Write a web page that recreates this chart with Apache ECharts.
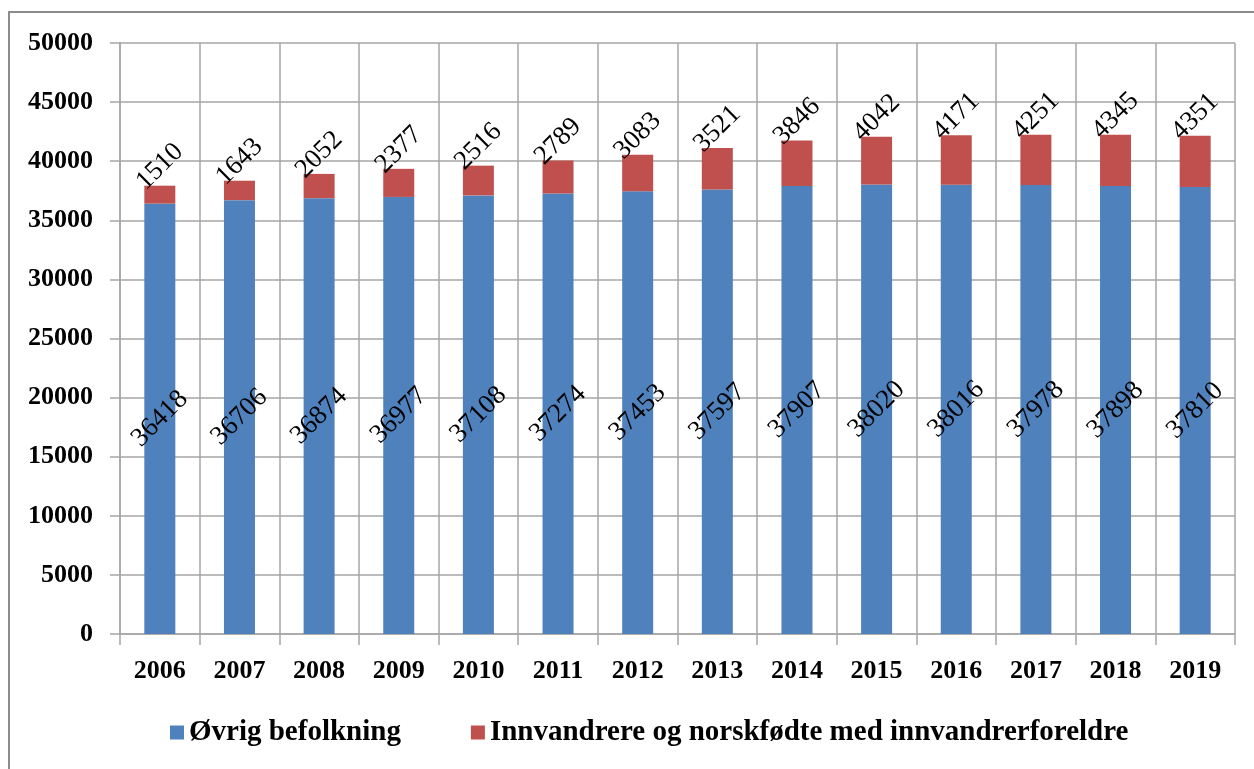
<!DOCTYPE html>
<html>
<head>
<meta charset="utf-8">
<script src="https://cdn.jsdelivr.net/npm/echarts@6/dist/echarts.min.js"></script>
<style>
  html, body { margin: 0; padding: 0; background: #fff; }
  #frame { position: absolute; left: 8px; top: 11px; width: 1260px; height: 770px; border-left: 2px solid #8c8c8c; border-top: 2px solid #8c8c8c; }
  #chart { position: absolute; left: 0; top: 0; width: 1254px; height: 769px; }
</style>
</head>
<body>
<div id="frame"></div>
<div id="chart"></div>
<script>
// Årstall
const years = ['2006', '2007', '2008', '2009', '2010', '2011', '2012', '2013', '2014', '2015', '2016', '2017', '2018', '2019']
// Øvrig befolkning
const ovrig = [36418, 36706, 36874, 36977, 37108, 37274, 37453, 37597, 37907, 38020, 38016, 37978, 37898, 37810]
// Innvandrere og norskfødte med innvandrerforeldre
const innvandrere = [1510, 1643, 2052, 2377, 2516, 2789, 3083, 3521, 3846, 4042, 4171, 4251, 4345, 4351]

const font = '"Liberation Serif", "Times New Roman", serif'
const gridColor = '#a6a6a6'

const chart = echarts.init(document.getElementById('chart'))

chart.setOption({
  animation: false,
  textStyle: { fontFamily: font },
  grid: { left: 120, right: 19, top: 43, bottom: 135 },
  legend: {
    bottom: 17,
    left: 165,
    itemWidth: 14,
    itemHeight: 14,
    itemGap: 70,
    icon: 'rect',
    textStyle: { fontFamily: font, fontSize: 29, fontWeight: 'bold', color: '#000' }
  },
  xAxis: {
    type: 'category',
    data: years,
    axisLine: { lineStyle: { color: gridColor, width: 1.5 } },
    axisTick: { show: true, length: 11, lineStyle: { color: gridColor, width: 1.5 } },
    splitLine: { show: true, lineStyle: { color: gridColor, width: 1.5 } },
    axisLabel: { fontFamily: font, fontSize: 26, fontWeight: 'bold', color: '#000', margin: 24 }
  },
  yAxis: {
    type: 'value',
    min: 0,
    max: 50000,
    interval: 5000,
    axisLine: { show: true, lineStyle: { color: gridColor, width: 1.5 } },
    axisTick: { show: true, length: 10, lineStyle: { color: gridColor, width: 1.5 } },
    splitLine: { lineStyle: { color: gridColor, width: 1.5 } },
    axisLabel: {
      fontFamily: font,
      fontSize: 26,
      fontWeight: 'bold',
      color: '#000',
      margin: 27,
      formatter: (v) => String(v)
    }
  },
  series: [
    {
      name: 'Øvrig befolkning',
      type: 'bar',
      stack: 'total',
      barWidth: 31,
      data: ovrig,
      itemStyle: { color: '#4F81BD' },
      label: {
        show: true,
        position: 'inside',
        rotate: 45,
        fontFamily: font,
        fontSize: 27,
        color: '#000'
      }
    },
    {
      name: 'Innvandrere og norskfødte med innvandrerforeldre',
      type: 'bar',
      stack: 'total',
      barWidth: 31,
      data: innvandrere,
      itemStyle: { color: '#C0504D' },
      label: {
        show: true,
        position: 'top',
        distance: 19,
        rotate: 45,
        align: 'center',
        verticalAlign: 'middle',
        fontFamily: font,
        fontSize: 27,
        color: '#000'
      }
    }
  ]
})
</script>
</body>
</html>
